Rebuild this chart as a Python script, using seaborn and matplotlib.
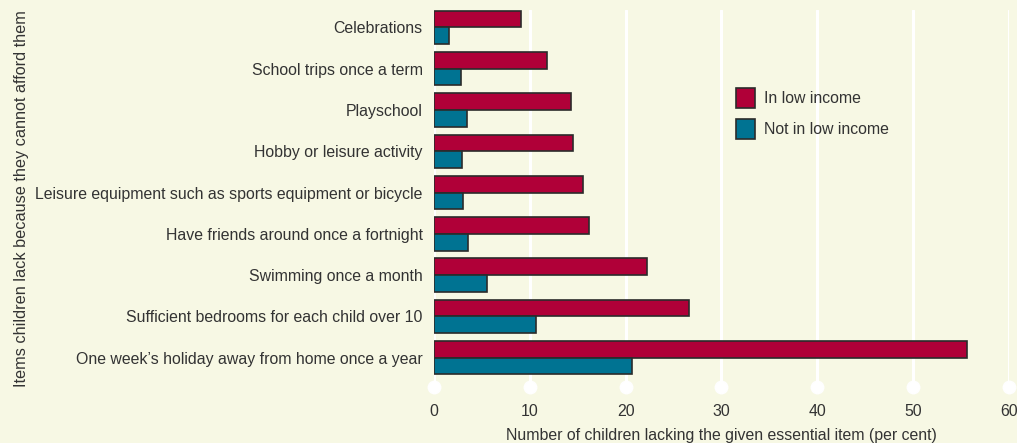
import pandas as pd
import matplotlib
matplotlib.use("Agg")
import matplotlib.pyplot as plt
import seaborn as sns

# data (per cent)
items = [
    "Celebrations",
    "School trips once a term",
    "Playschool",
    "Hobby or leisure activity",
    "Leisure equipment such as sports equipment or bicycle",
    "Have friends around once a fortnight",
    "Swimming once a month",
    "Sufficient bedrooms for each child over 10",
    "One week\u2019s holiday away from home once a year",
]
low_income = [9.1, 11.8, 14.3, 14.5, 15.6, 16.2, 22.2, 26.6, 55.6]
not_low_income = [1.6, 2.8, 3.4, 2.9, 3.0, 3.6, 5.5, 10.7, 20.7]
groups = ["In low income", "Not in low income"]
xticks = [0, 10, 20, 30, 40, 50, 60]

bg = "#F7F8E4"
colors = ["#B00038", "#007392"]
txt = "#333333"
fs = 11.4

df = pd.DataFrame({
    "item": items * 2,
    "value": low_income + not_low_income,
    "group": [groups[0]] * len(items) + [groups[1]] * len(items),
})

sns.set_theme(style="white")
plt.rcParams["font.family"] = ["Liberation Sans", "DejaVu Sans"]
plt.rcParams["text.color"] = txt

fig = plt.figure(figsize=(10.17, 4.43), dpi=100, facecolor=bg)
ax = fig.add_axes([0.4267, 0.1264, 0.5653, 0.851])
ax.set_facecolor(bg)

sns.barplot(data=df, x="value", y="item", hue="group", orient="h",
            palette=colors, saturation=1, width=0.81, edgecolor="#2b2b2b",
            linewidth=1.2, ax=ax, zorder=3)

ybottom = 8.71
# white gridlines with dots at the bottom
for t in xticks:
    ax.axvline(t, color="white", lw=2.2, zorder=1)
ax.plot(xticks, [ybottom] * len(xticks), "o", color="white", ms=9,
        clip_on=False, zorder=4)

ax.set_xlim(0, 60)
ax.set_ylim(ybottom, -0.42)
ax.set_xticks(xticks)
ax.tick_params(axis="both", length=0, labelsize=fs, colors=txt)
ax.tick_params(axis="x", pad=12)
ax.tick_params(axis="y", pad=8)
for s in ax.spines.values():
    s.set_visible(False)

ax.set_xlabel("Number of children lacking the given essential item (per cent)",
              fontsize=fs, color=txt, labelpad=7)
ax.set_ylabel("")
fig.text(0.021, 0.552, "Items children lack because they cannot afford them",
         rotation=90, ha="center", va="center", fontsize=11.7, color=txt)

leg = ax.legend(loc="upper left", bbox_to_anchor=(0.50, 0.83), frameon=False,
                fontsize=fs, handlelength=1.25, handleheight=1.55,
                handletextpad=0.55, labelspacing=0.7)
for h in leg.legend_handles:
    h.set_edgecolor("#2b2b2b")
    h.set_linewidth(1.2)

fig.savefig("out.png", dpi=100, facecolor=bg)
